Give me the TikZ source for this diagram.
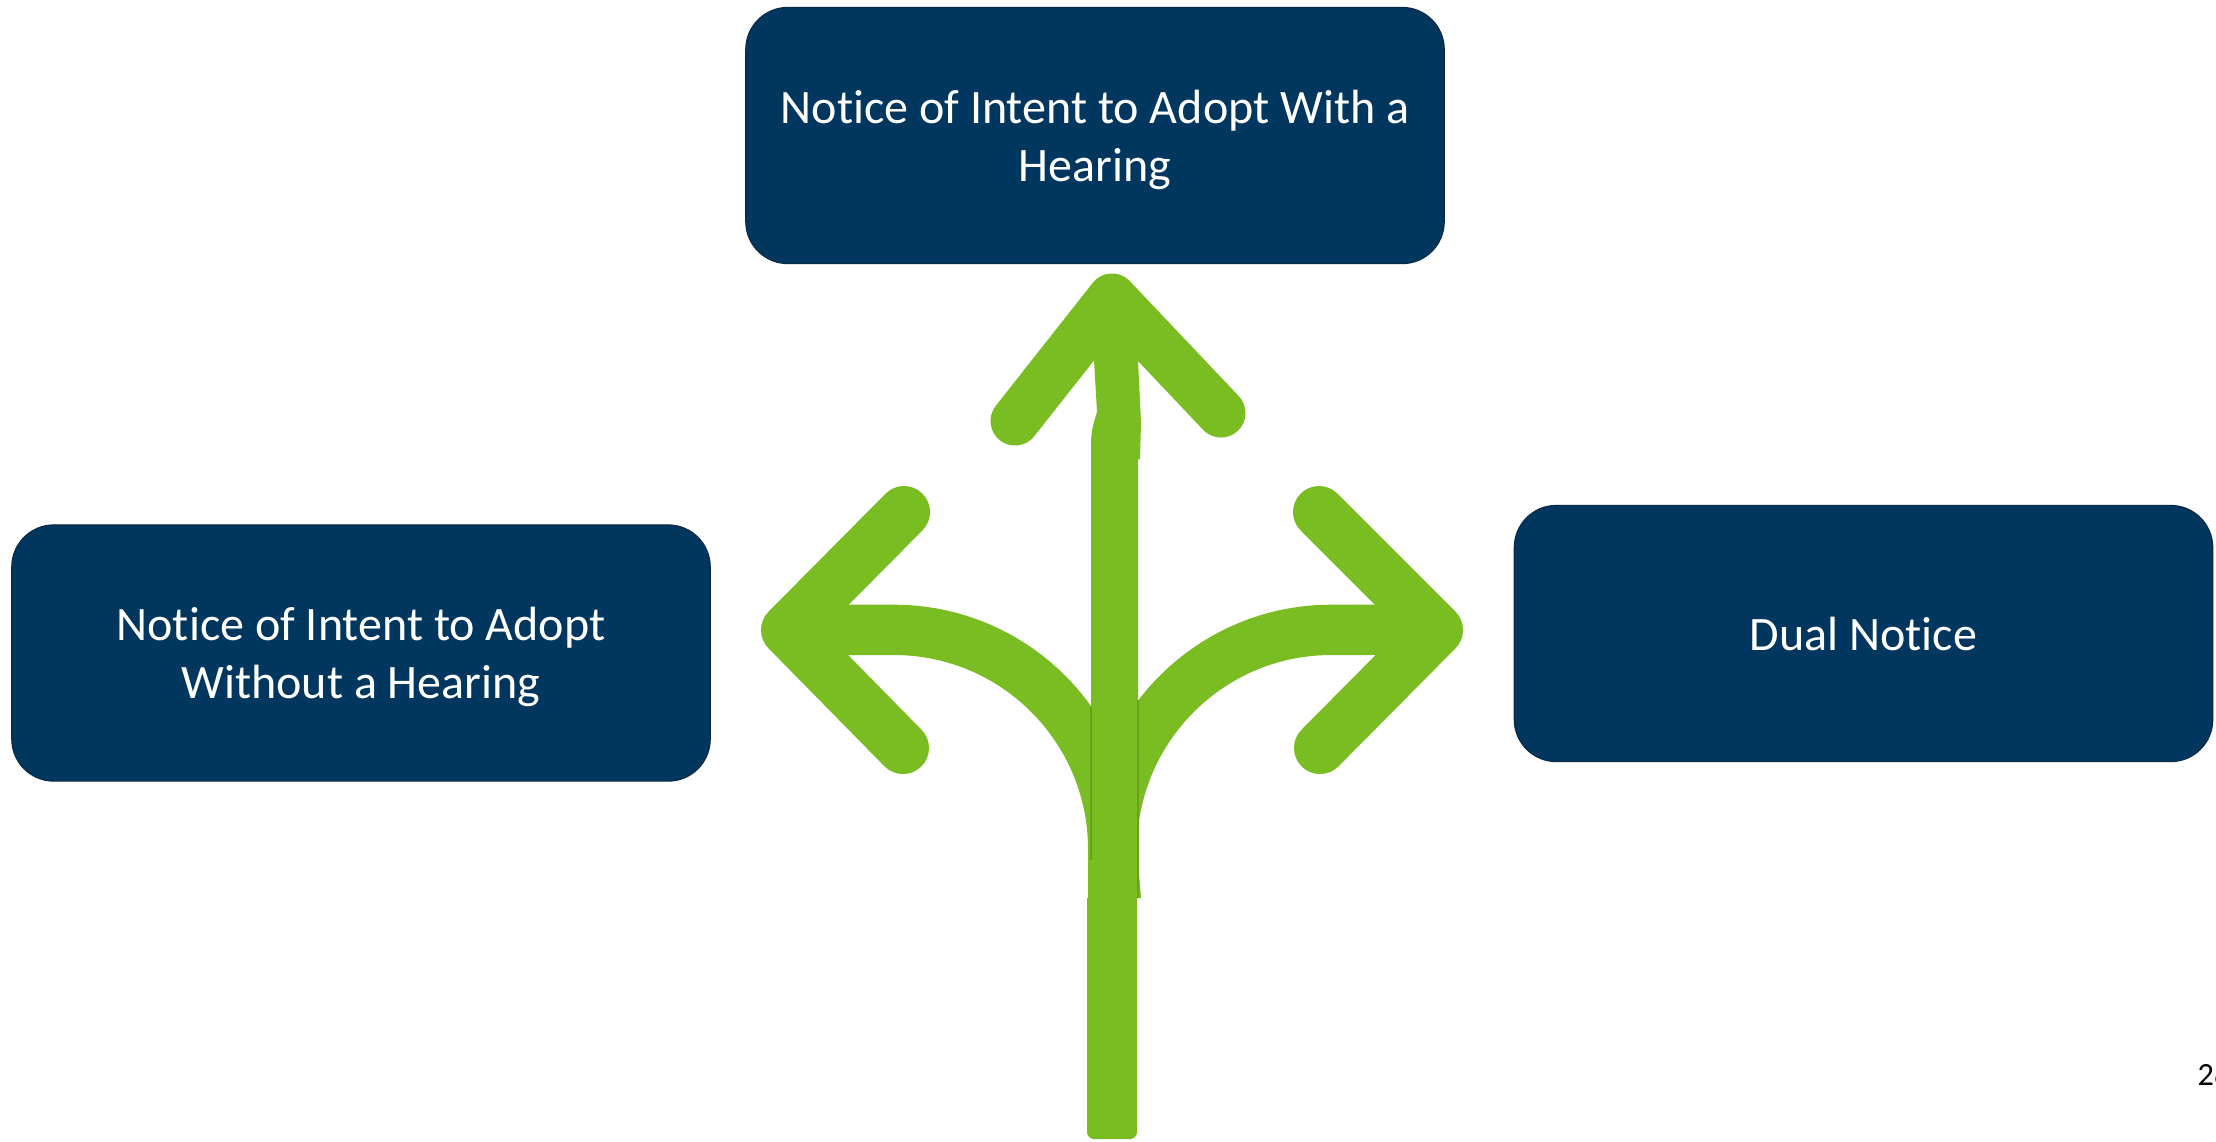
\documentclass[tikz,border=0pt]{standalone}
\usepackage{fontspec}
\setmainfont[Ligatures=CommonOff]{Carlito}
\definecolor{navy}{HTML}{01375F}
\definecolor{navyedge}{HTML}{0B2A45}
\definecolor{leaf}{HTML}{7ABD22}
\definecolor{leafdark}{HTML}{6AA01E}
\newcommand{\firstline}{\rule{0pt}{11.9pt}}
\tikzset{
  notice/.style={draw=navyedge,line width=0.012cm,fill=navy,rounded corners=0.42cm,text=white,align=center,
    minimum width=6.98cm,minimum height=2.56cm,inner sep=0pt,
    font=\fontsize{13.66pt}{16.5pt}\selectfont},
  barb/.style={draw=leaf,line width=0.52cm,line cap=round,line join=round},
  topbarb/.style={draw=leaf,line width=0.49cm,line cap=round,line join=round},
  seam/.style={draw=leafdark,line width=0.012cm},
}
\begin{document}
\begin{tikzpicture}[x=0.01cm,y=-0.01cm]
\useasboundingbox (0,0) rectangle (2216,1141);
\clip (0,0) rectangle (2216,1141);
\fill[white] (0,0) rectangle (2216,1141);
% boxes
\node[notice] (top) at (1095,135.5) {\firstline Notice of Intent to Adopt With a\\Hearing};
\node[notice] (left) at (361,653) {\firstline Notice of Intent to Adopt\\Without a Hearing};
\node[notice] (right) at (1863.5,633.5) {Dual Notice};
% curved left branch
\fill[leaf] (790,604.7) -- (894,604.7) .. controls (1028,604.7) and (1137,714) .. (1137,849)
  -- (1137,898) -- (1088,898) -- (1088,849) .. controls (1088,742) and (1001,655) .. (894,655) -- (790,655) -- cycle;
% curved right branch
\fill[leaf] (1435,604.7) -- (1331,604.7) .. controls (1197,604.7) and (1088,714) .. (1088,849)
  -- (1088,898) -- (1141,898) -- (1137,849) .. controls (1137,742) and (1224,655) .. (1331,655) -- (1435,655) -- cycle;
% arrow heads, side
\draw[barb] (904,512) -- (787,630) -- (903,748);
\draw[barb] (1319,512) -- (1437,630) -- (1320,748);
% central stem
\fill[leaf] (1091,445) .. controls (1091,432) and (1093,425) .. (1097,412) -- (1094,360) -- (1112,298) -- (1138,360) -- (1141,423) -- (1140,459) -- (1138,459)
  -- (1138,898) -- (1137,898) -- (1137,1132) arc[start angle=0,end angle=90,radius=7] -- (1094,1139) arc[start angle=90,end angle=180,radius=7] -- (1087,898) -- (1091,898) -- cycle;
% top arrow head
\draw[topbarb] (1015,421) -- (1112,298) -- (1221,413);
% seams
\draw[seam] (1091,707) -- (1091,860);
\draw[seam] (1138,700) -- (1138,898);
% page number
\node[anchor=base west,inner sep=0pt,font=\fontsize{9.2pt}{11pt}\selectfont] (page) at (2197,1085) {28};
\end{tikzpicture}
\end{document}
